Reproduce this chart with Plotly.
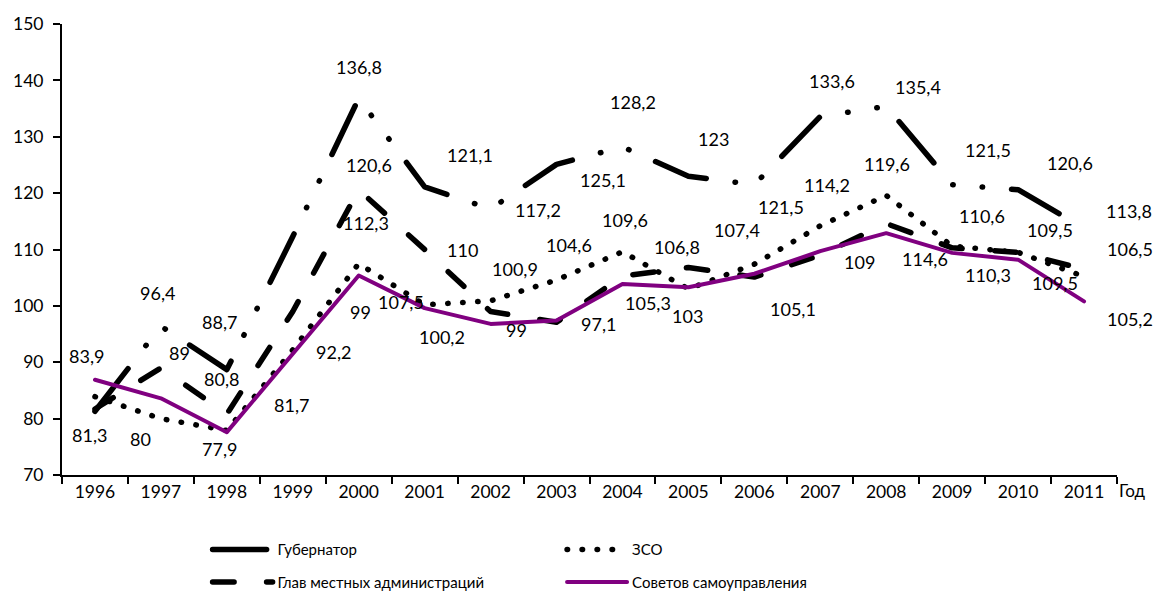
import plotly.graph_objects as go

years = [str(y) for y in range(1996, 2012)]

gubernator = [81.3, 96.4, 88.7, 112.3, 136.8, 121.1, 117.2, 125.1, 128.2, 123, 121.5, 133.6, 135.4, 121.5, 120.6, 113.8]
glav_adm = [81.7, 89, 80.8, 99, 120.6, 110, 99, 97.1, 105.3, 106.8, 105.1, 109, 114.6, 110.3, 109.5, 106.5]
zso = [83.9, 80, 77.9, 92.2, 107.5, 100.2, 100.9, 104.6, 109.6, 103, 107.4, 114.2, 119.6, 110.6, 109.5, 105.2]
sovetov = [86.9, 83.6, 77.6, 91.6, 105.4, 99.6, 96.8, 97.4, 103.9, 103.3, 105.7, 109.7, 112.9, 109.4, 108.2, 100.8]

names = ["Губернатор", "Глав местных администраций", "ЗСО", "Советов самоуправления"]

# label offsets in pixels (dx, dy) relative to the data point
g_off = [(-5, -24), (-3, 33), (-7, 48), (73, 14), (0, 31), (45, 32), (47, -1), (46, -16),
         (11, 45), (25, 37), (27, -22), (12, 35), (32, 19), (36, 35), (52, 27), (45, 17)]
d_off = [(197, 4), (19, 15), (-5, 35), (68, 0), (10, 25), (38, 0), (26, -18), (42, -2),
         (26, -27), (-11, 21), (39, -32), (39, -7), (39, -35), (36, -27), (37, -31), (46, 20)]
z_off = [(-8, 41), (-20, -20), (-7, -19), (41, -2), (42, -38), (17, -32), (24, 32), (12, 35),
         (3, 32), (-1, -27), (-17, 34), (7, 41), (1, 31), (30, 30), (32, 22), (46, -42)]

FONT = "Lato, 'Open Sans', sans-serif"

fig = go.Figure()

fig.add_trace(go.Scatter(
    x=years, y=gubernator, mode="lines", name=names[0],
    line=dict(color="black", width=5.5, dash="54px,29px,0.5px,29px,0.5px,29px"),
    legend="legend", legendgroup="g",
))
fig.add_trace(go.Scatter(
    x=years, y=glav_adm, mode="lines", name=names[1],
    line=dict(color="black", width=5.5, dash="21.5px,32.5px"),
    legend="legend", legendgroup="d",
))
fig.add_trace(go.Scatter(
    x=years, y=zso, mode="lines", name=names[2],
    line=dict(color="black", width=5.5, dash="0.5px,14.5px"),
    legend="legend2", legendgroup="z",
))
fig.add_trace(go.Scatter(
    x=years, y=sovetov, mode="lines", name=names[3],
    line=dict(color="#800080", width=4),
    legend="legend2", legendgroup="s",
))


def fmt(v):
    return f"{v:g}".replace(".", ",")


annotations = []
for series, offs in ((gubernator, g_off), (glav_adm, d_off), (zso, z_off)):
    for idx, (v, (dx, dy)) in enumerate(zip(series, offs)):
        annotations.append(dict(
            x=idx, y=v, xref="x", yref="y", text=fmt(v), showarrow=False,
            xshift=dx, yshift=dy,
            font=dict(family=FONT, size=18, color="black"),
        ))

annotations.append(dict(
    xref="paper", yref="paper", x=1, y=0, text="Год", showarrow=False,
    xanchor="left", yanchor="middle", xshift=0, yshift=-15,
    font=dict(family=FONT, size=17, color="black"),
))

fig.update_layout(
    width=1158, height=591,
    margin=dict(l=62, r=41, t=24, b=116, autoexpand=False),
    paper_bgcolor="white", plot_bgcolor="white",
    font=dict(family=FONT, size=17.5, color="black"),
    annotations=annotations,
    showlegend=True,
    legend=dict(
        xref="paper", yref="paper", x=0.138, y=-0.129,
        xanchor="left", yanchor="top", traceorder="grouped", orientation="v",
        tracegroupgap=10, itemwidth=60, font=dict(family=FONT, size=15, color="black"),
        bgcolor="rgba(0,0,0,0)",
    ),
    legend2=dict(
        xref="paper", yref="paper", x=0.474, y=-0.129,
        xanchor="left", yanchor="top", traceorder="grouped", orientation="v",
        tracegroupgap=10, itemwidth=60, font=dict(family=FONT, size=15, color="black"),
        bgcolor="rgba(0,0,0,0)",
    ),
)

fig.update_xaxes(
    type="category", range=[-0.5, 15.5], tickson="boundaries",
    ticks="outside", ticklen=7, tickwidth=2, tickcolor="black",
    showline=True, linecolor="black", linewidth=2,
    showgrid=False, zeroline=False, tickangle=0, automargin=False,
    tickfont=dict(family=FONT, size=17.5, color="black"),
)
fig.update_yaxes(
    range=[70, 150], dtick=10, tick0=70,
    ticks="outside", ticklen=7, tickwidth=2, tickcolor="black",
    showline=True, linecolor="black", linewidth=2,
    showgrid=False, zeroline=False, ticklabelstandoff=6, automargin=False,
    tickfont=dict(family=FONT, size=17.5, color="black"),
)

post = (
    "document.body.style.margin='0px';"
    "document.querySelectorAll('.js-line').forEach(function(p){"
    "p.style.strokeLinecap='round';p.style.strokeLinejoin='round';});"
)

fig.write_html("out.html", post_script=post, config={"displayModeBar": False})
